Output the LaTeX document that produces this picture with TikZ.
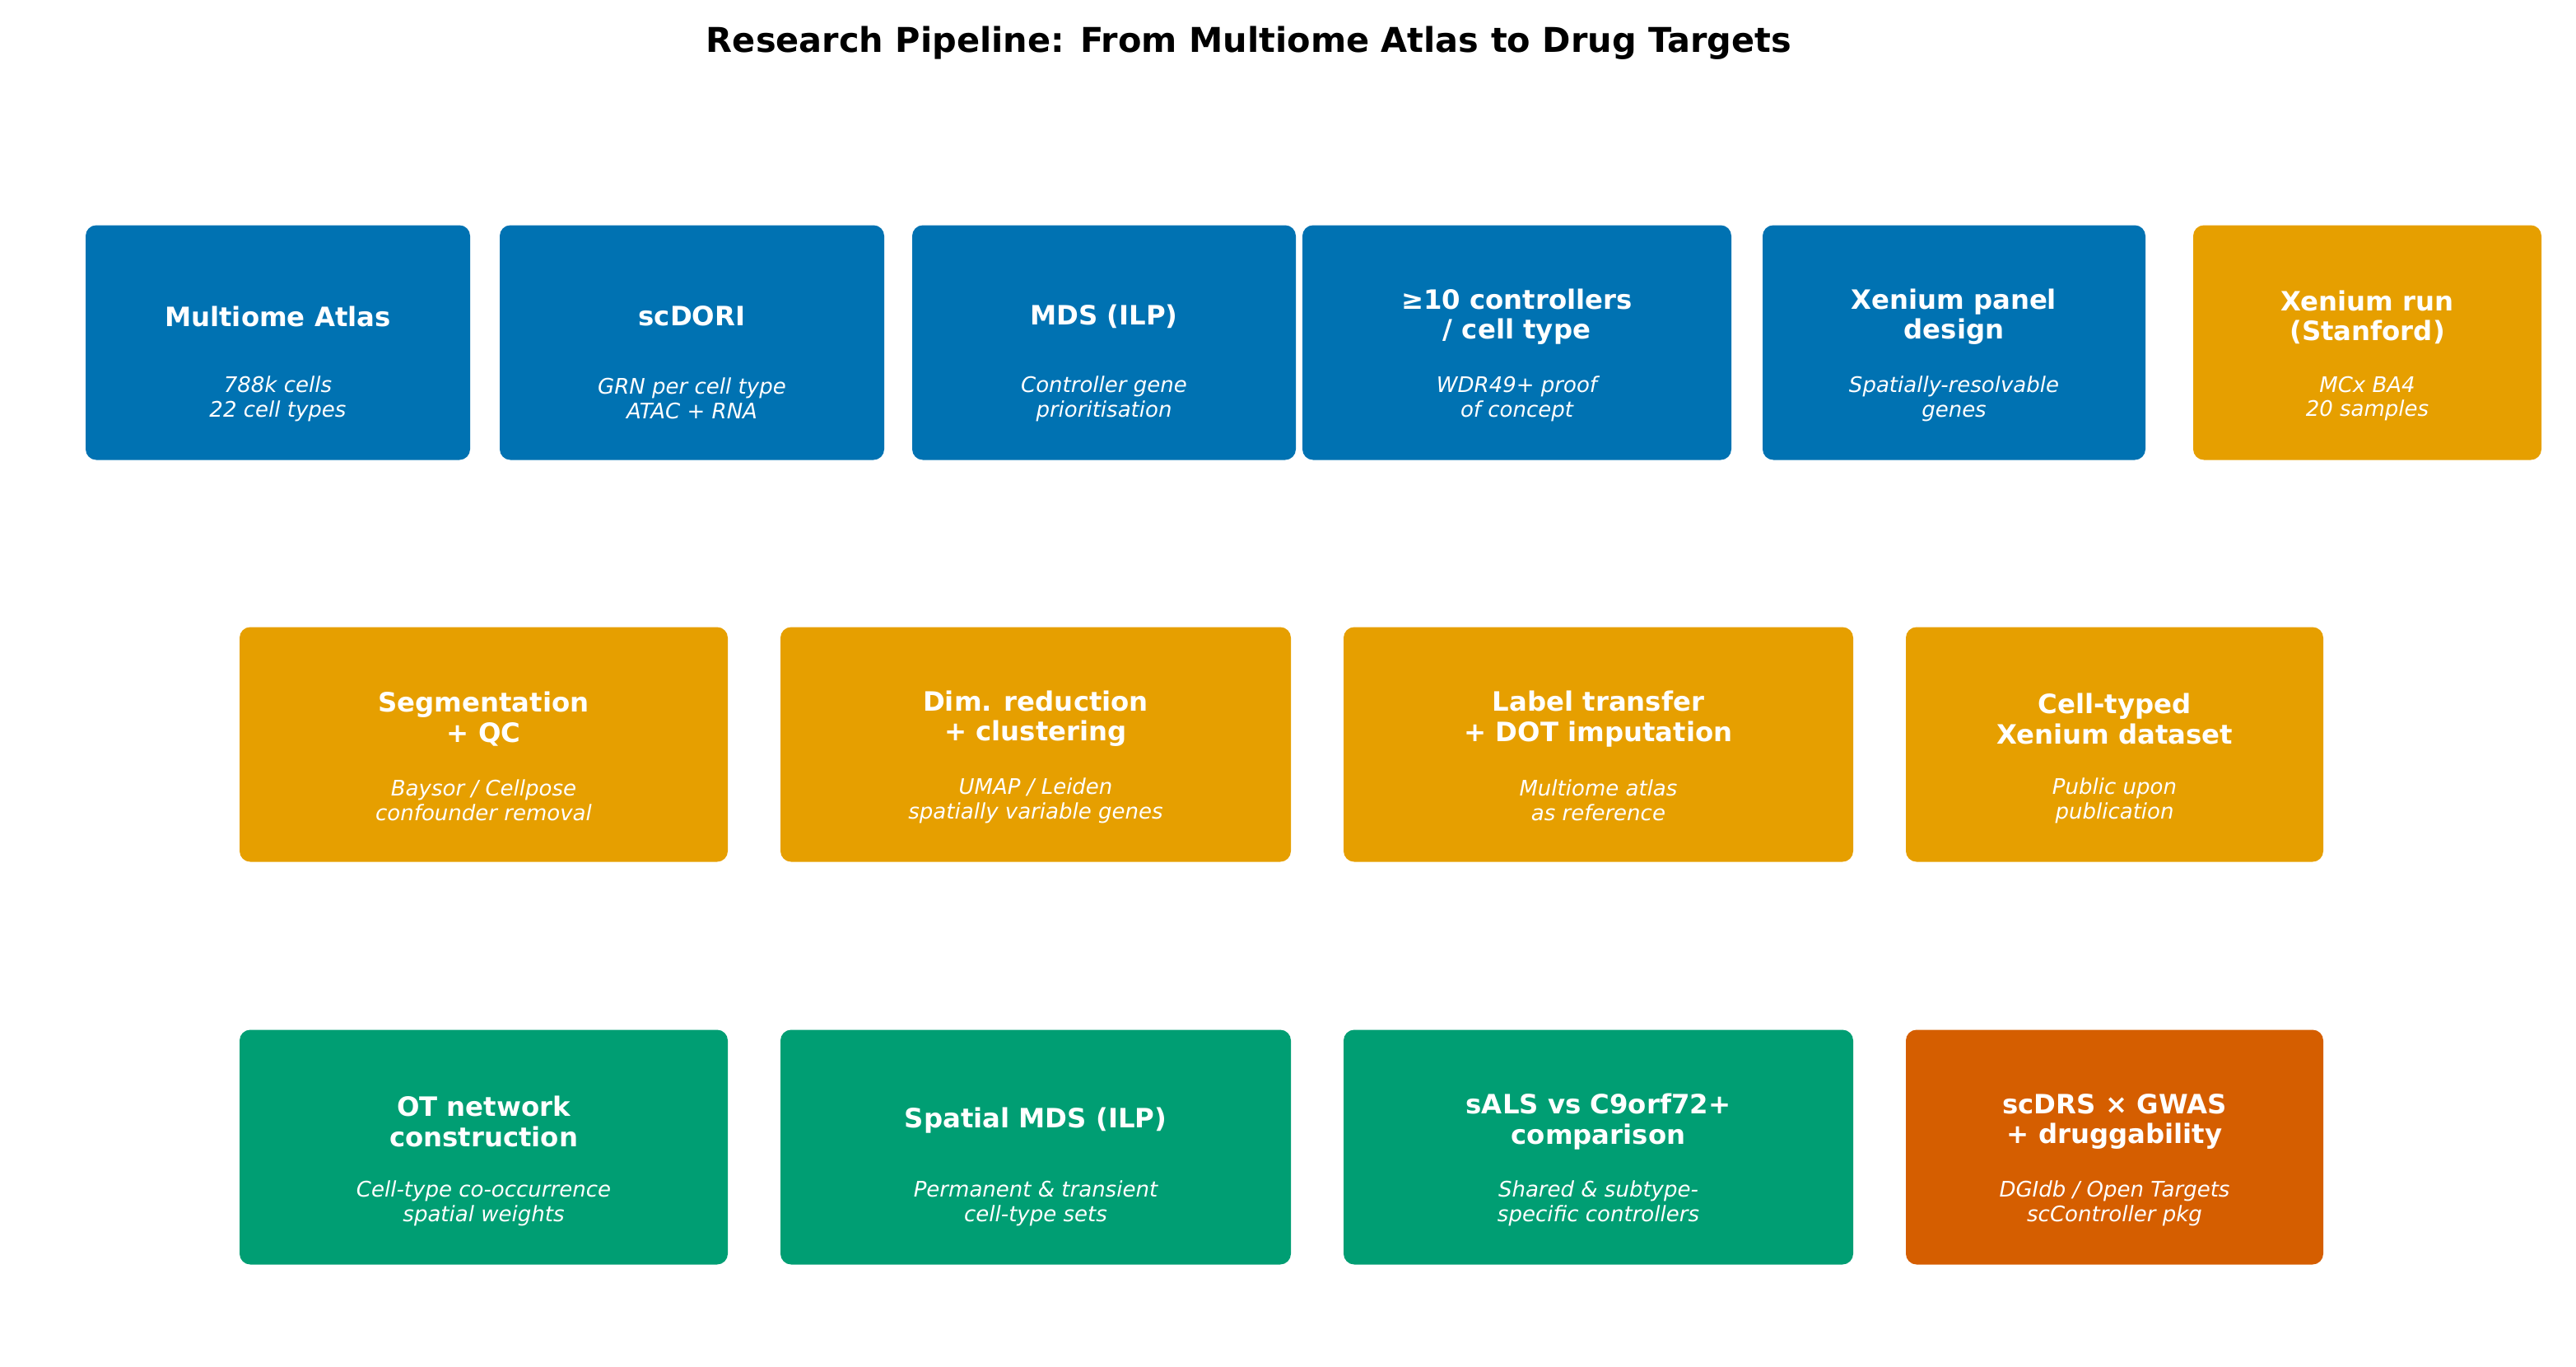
\documentclass[tikz,border=0pt]{standalone}
\usepackage{fontspec}
\setmainfont{DejaVu Sans}
\usepackage{tikz}
\usetikzlibrary{positioning,calc}
\usepackage{xcolor}

\definecolor{stepblue}{HTML}{0072B2}
\definecolor{steporange}{HTML}{E69F00}
\definecolor{stepgreen}{HTML}{009E73}
\definecolor{stepred}{HTML}{D55E00}

\begin{document}
\begin{tikzpicture}[
    card/.style={fill=#1, draw=none, rounded corners=0.13cm, minimum height=2.85cm, inner sep=0pt},
    head/.style={text=white, align=center, inner sep=0pt, font=\fontsize{9.2}{10.3}\selectfont\bfseries},
    sub/.style={text=white, align=center, inner sep=0pt, font=\fontsize{7.4}{8.5}\selectfont\itshape}
  ]
    \useasboundingbox (0,0) rectangle (31.29,-16.60);

    \node[font=\fontsize{11.8}{13}\selectfont\bfseries] (title) at (15.17,-0.52) {Research Pipeline: From Multiome Atlas to Drug Targets};

    % first row: atlas to panel design
    \node[card=stepblue, minimum width=4.67cm] (atlas) at (3.375,-4.16) {};
    \node[head] (atlas-h) at ([yshift=0.32cm]atlas.center) {Multiome Atlas};
    \node[sub] (atlas-s) at ([yshift=-0.68cm]atlas.center) {788k cells\\22 cell types};

    \node[card=stepblue, minimum width=4.67cm] (scdori) at (8.405,-4.16) {};
    \node[head] (scdori-h) at ([yshift=0.32cm]scdori.center) {scDORI};
    \node[sub] (scdori-s) at ([yshift=-0.68cm]scdori.center) {GRN per cell type\\ATAC + RNA};

    \node[card=stepblue, minimum width=4.66cm] (mds) at (13.41,-4.16) {};
    \node[head] (mds-h) at ([yshift=0.32cm]mds.center) {MDS (ILP)};
    \node[sub] (mds-s) at ([yshift=-0.68cm]mds.center) {Controller gene\\prioritisation};

    \node[card=stepblue, minimum width=5.21cm] (ctrl) at (18.425,-4.16) {};
    \node[head] (ctrl-h) at ([yshift=0.31cm]ctrl.center) {≥10 controllers\\/ cell type};
    \node[sub] (ctrl-s) at ([yshift=-0.68cm]ctrl.center) {WDR49+ proof\\of concept};

    \node[card=stepblue, minimum width=4.65cm] (panel) at (23.735,-4.16) {};
    \node[head] (panel-h) at ([yshift=0.31cm]panel.center) {Xenium panel\\design};
    \node[sub] (panel-s) at ([yshift=-0.68cm]panel.center) {Spatially-resolvable\\genes};

    \node[card=steporange, minimum width=4.23cm] (run) at (28.755,-4.16) {};
    \node[head] (run-h) at ([yshift=0.31cm]run.center) {Xenium run\\(Stanford)};
    \node[sub] (run-s) at ([yshift=-0.68cm]run.center) {MCx BA4\\20 samples};

    % second row: processing
    \node[card=steporange, minimum width=5.93cm] (seg) at (5.875,-9.04) {};
    \node[head] (seg-h) at ([yshift=0.31cm]seg.center) {Segmentation\\+ QC};
    \node[sub] (seg-s) at ([yshift=-0.68cm]seg.center) {Baysor / Cellpose\\confounder removal};

    \node[card=steporange, minimum width=6.20cm] (dim) at (12.58,-9.04) {};
    \node[head] (dim-h) at ([yshift=0.31cm]dim.center) {Dim. reduction\\+ clustering};
    \node[sub] (dim-s) at ([yshift=-0.68cm]dim.center) {UMAP / Leiden\\spatially variable genes};

    \node[card=steporange, minimum width=6.19cm] (label) at (19.415,-9.04) {};
    \node[head] (label-h) at ([yshift=0.31cm]label.center) {Label transfer\\+ DOT imputation};
    \node[sub] (label-s) at ([yshift=-0.68cm]label.center) {Multiome atlas\\as reference};

    \node[card=steporange, minimum width=5.07cm] (typed) at (25.685,-9.04) {};
    \node[head] (typed-h) at ([yshift=0.31cm]typed.center) {Cell-typed\\Xenium dataset};
    \node[sub] (typed-s) at ([yshift=-0.68cm]typed.center) {Public upon\\publication};

    % third row: analysis
    \node[card=stepgreen, minimum width=5.93cm] (ot) at (5.875,-13.93) {};
    \node[head] (ot-h) at ([yshift=0.31cm]ot.center) {OT network\\construction};
    \node[sub] (ot-s) at ([yshift=-0.68cm]ot.center) {Cell-type co-occurrence\\spatial weights};

    \node[card=stepgreen, minimum width=6.20cm] (smds) at (12.58,-13.93) {};
    \node[head] (smds-h) at ([yshift=0.32cm]smds.center) {Spatial MDS (ILP)};
    \node[sub] (smds-s) at ([yshift=-0.68cm]smds.center) {Permanent \& transient\\cell-type sets};

    \node[card=stepgreen, minimum width=6.19cm] (sals) at (19.415,-13.93) {};
    \node[head] (sals-h) at ([yshift=0.31cm]sals.center) {sALS vs C9orf72+\\comparison};
    \node[sub] (sals-s) at ([yshift=-0.68cm]sals.center) {Shared \& subtype-\\specific controllers};

    \node[card=stepred, minimum width=5.07cm] (scdrs) at (25.685,-13.93) {};
    \node[head] (scdrs-h) at ([yshift=0.31cm]scdrs.center) {scDRS × GWAS\\+ druggability};
    \node[sub] (scdrs-s) at ([yshift=-0.68cm]scdrs.center) {DGIdb / Open Targets\\scController pkg};
\end{tikzpicture}
\end{document}
